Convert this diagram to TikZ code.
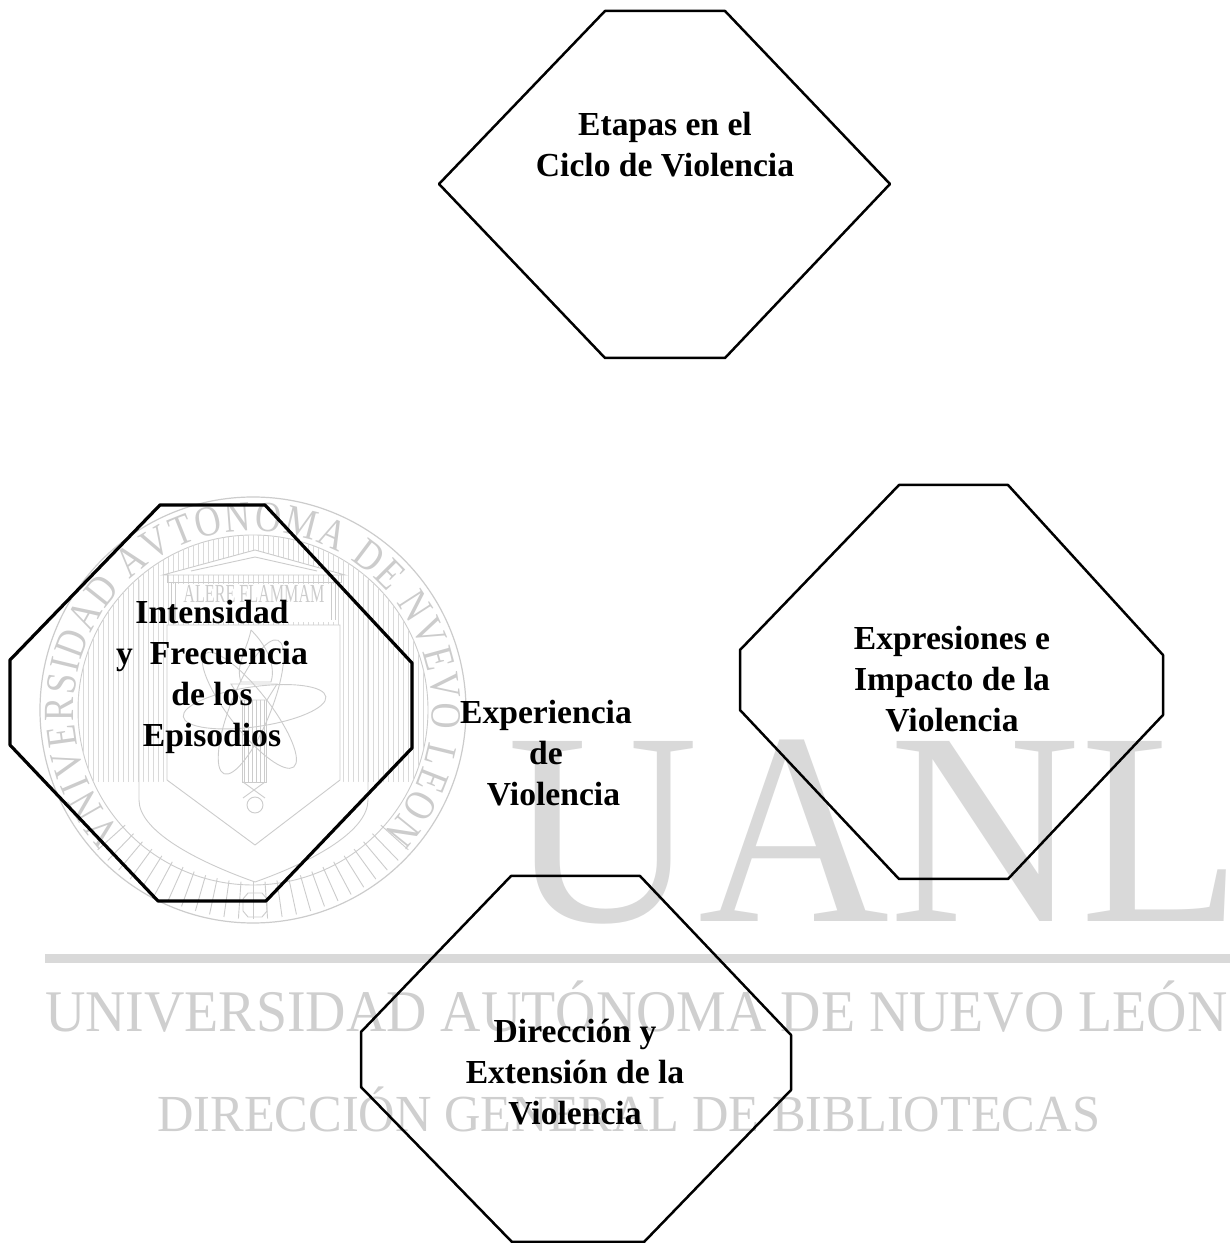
\documentclass[tikz,border=0pt]{standalone}
\usepackage{fontspec}
\setmainfont{Liberation Serif}
\newfontfamily\ringfont[FakeStretch=0.84]{Liberation Serif}
\usetikzlibrary{decorations.text}
\definecolor{wm}{HTML}{D9D9D9}
\definecolor{wmt}{HTML}{CFCFCF}
\definecolor{seal}{HTML}{CCCCCC}
\definecolor{stripe}{HTML}{DADADA}
\tikzset{
  shapeline/.style={draw=black,line width=2.5pt,line join=round},
  label/.style={font=\fontsize{33.6}{41}\selectfont\bfseries,align=center,text=black,inner sep=0pt},
  wmark/.style={inner sep=0pt,anchor=base west,text=wmt},
  sealline/.style={draw=seal,line width=0.9pt},
}
\begin{document}
\begin{tikzpicture}[x=1pt,y=1pt]
\useasboundingbox (0,0) rectangle (1230,1243);
\fill[white] (0,0) rectangle (1230,1243);
% ---------- watermark letters
\node[wmark,text=wm] (uanl) at (507,321) {\fontsize{275}{275}\selectfont\scalebox{0.963}[1]{UANL}};
\fill[wm] (45,280) rectangle (1230,289);
\node[wmark] (uni) at (45,211) {\fontsize{59}{59}\selectfont\scalebox{0.947}[1]{UNIVERSIDAD AUTÓNOMA DE NUEVO LEÓN}};
\node[wmark] (dir) at (157,111) {\fontsize{52}{52}\selectfont\scalebox{0.97}[1]{DIRECCIÓN GENERAL DE BIBLIOTECAS}};
% ---------- seal
\begin{scope}[shift={(253,533)}]
  \draw[sealline,line width=1.2pt] (0,0) circle (213);
  \draw[sealline] (0,0) circle (175);
  % radial rays at the foot
  \foreach \a in {222,226,...,318} \draw[sealline] (\a:172) -- (\a:209);
  % stripes
  \begin{scope}
    \clip (0,0) circle (175);
    \clip (-180,-72) rectangle (180,180);
    \foreach \x in {-175,-170,...,175} \draw[draw=stripe,line width=0.5pt] (\x,-180) -- (\x,180);
  \end{scope}
  % shield
  \fill[white] (-114,-72) -- (-114,-90) .. controls (-114,-120) and (-60,-150) .. (2,-172)
     .. controls (64,-150) and (115,-120) .. (115,-90) -- (115,-72) -- cycle;
  \draw[sealline] (-114,130) -- (-114,-90) .. controls (-114,-120) and (-60,-150) .. (2,-172)
     .. controls (64,-150) and (115,-120) .. (115,-90) -- (115,130);
  \fill[white,draw=seal,line width=0.9pt] (-86,85) -- (-86,-70) -- (2,-135) -- (87,-70) -- (87,85) -- cycle;
  % building
  \fill[white,draw=seal,line width=0.9pt] (-90,135) -- (2,160) -- (92,135) -- cycle;
  \draw[sealline] (-62,139) -- (2,153) -- (64,139);
  \draw[sealline] (-86,135) -- (-86,128) -- (88,128) -- (88,135);
  \fill[white] (-80,88) rectangle (82,126);
  \node[inner sep=0pt,text=seal] (motto) at (1,116) {\fontsize{26}{26}\selectfont\scalebox{0.62}[1]{ALERE FLAMMAM}};
  \draw[sealline] (-82,128) -- (-82,90) (-78,128) -- (-78,90) (82,128) -- (82,90) (78,128) -- (78,90);
  % atom
  \foreach \r in {8,68,128} \draw[sealline,rotate=\r] (2,3) ellipse (72 and 20);
  % torch
  \draw[sealline] (-2,80) .. controls (18,60) and (22,40) .. (18,28) -- (-12,28) .. controls (-18,45) and (-6,60) .. (-2,80);
  \draw[sealline] (-22,26) -- (24,26) -- (14,10) -- (-12,10) -- cycle;
  \foreach \x in {-9,-5,...,11} \draw[draw=seal,line width=0.5pt] (\x,10) -- (\x,-72);
  \draw[sealline] (-11,10) -- (-11,-72) -- (13,-72) -- (13,10);
  \draw[sealline] (-10,-72) -- (12,-88) (12,-72) -- (-10,-88);
  \draw[sealline] (2,-95) circle (8);
  % foot ornament
  \draw[sealline] (-5,-183) -- (9,-183) -- (14,-189) -- (14,-201) -- (9,-207) -- (-5,-207) -- (-10,-201) -- (-10,-189) -- cycle;
  % ring text
  \path[decorate,decoration={text along path,
      text={|\ringfont\fontsize{43}{43}\selectfont\color{seal}|VNIVERSIDAD AVTONOMA DE NVEVO LEON},
      text align=fit to path}]
      (223:179) arc[start angle=223,end angle=-43,radius=179];
\end{scope}
% ---------- outlines
\draw[shapeline] (605,1232) -- (725,1232) -- (890,1059) -- (725,885) -- (605,885) -- (439,1059) -- cycle;
\draw[shapeline,line width=3.2pt] (160,738) -- (265,738) -- (412,580) -- (412,495) -- (266,342) -- (158,342) -- (10,498) -- (10,583) -- cycle;
\draw[shapeline] (899,758) -- (1008,758) -- (1163,588) -- (1163,528) -- (1008,364) -- (899,364) -- (740,533) -- (740,593) -- cycle;
\draw[shapeline] (511,367) -- (640,367) -- (791,208) -- (791,153) -- (644,1) -- (512,1) -- (361,156) -- (361,211) -- cycle;
% ---------- labels
\node[label] (etapas) at (665,1098) {Etapas en el\\Ciclo de Violencia};
\node[label] (intens) at (212,566) {Intensidad\\y\ \ Frecuencia\\de los\\Episodios};
\node[label] (exper) at (546,490) {Experiencia\\de\\\hspace{15pt}Violencia};
\node[label] (expres) at (952,564) {Expresiones e\\Impacto de la\\Violencia};
\node[label] (direc) at (575,171) {Dirección y\\Extensión de la\\Violencia};
\end{tikzpicture}
\end{document}
